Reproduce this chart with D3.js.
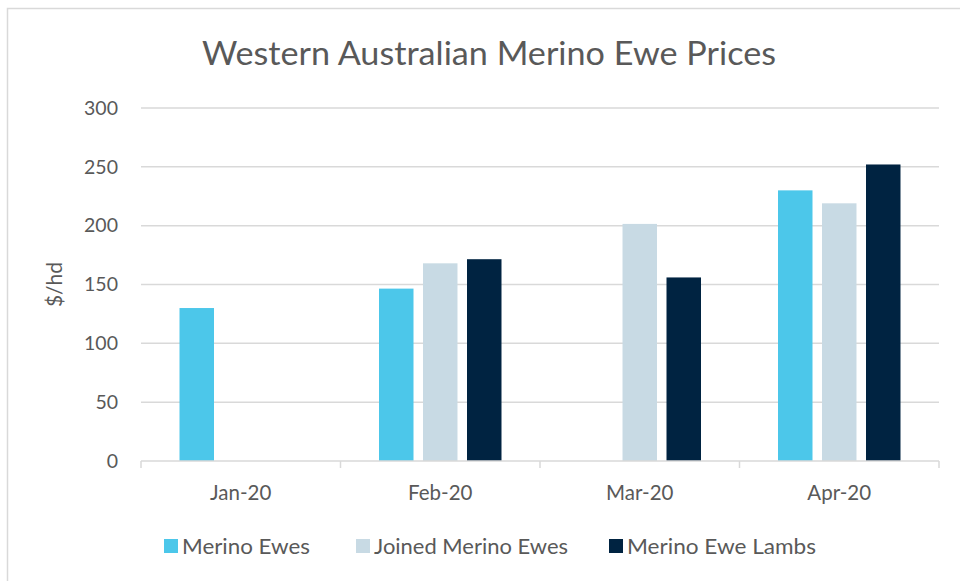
<!DOCTYPE html>
<html>
<head>
<meta charset="utf-8">
<script src="https://cdn.jsdelivr.net/npm/d3@7"></script>
<style>
  body { margin: 0; background: #fff; }
  text { font-family: Lato, "Open Sans", sans-serif; fill: #595959; }
</style>
</head>
<body>
<svg id="chart"></svg>
<script>
// data
const months = ["Jan-20", "Feb-20", "Mar-20", "Apr-20"];
const seriesNames = ["Merino Ewes", "Joined Merino Ewes", "Merino Ewe Lambs"];
const merinoEwes = [130, 146.5, null, 230];
const joinedMerinoEwes = [null, 168, 201.5, 219];
const merinoEweLambs = [null, 171.5, 156, 252];
const yTicks = [0, 50, 100, 150, 200, 250, 300];
const colors = ["#4cc7ea", "#c8dae4", "#002341"];

const width = 960, height = 581;
const margin = { top: 108, right: 21, bottom: 120, left: 141 };
const innerW = width - margin.left - margin.right;
const innerH = height - margin.top - margin.bottom;

const seriesValues = [merinoEwes, joinedMerinoEwes, merinoEweLambs];

const svg = d3.select("#chart")
    .attr("width", width)
    .attr("height", height);

// outer chart border
svg.append("rect")
    .attr("x", 7.5).attr("y", 8.5)
    .attr("width", width).attr("height", height)
    .attr("fill", "none")
    .attr("stroke", "#d9d9d9")
    .attr("stroke-width", 1.5);

svg.append("text")
    .attr("x", 489)
    .attr("y", 65)
    .attr("text-anchor", "middle")
    .style("font-size", "33px")
    .attr("textLength", 574)
    .attr("lengthAdjust", "spacingAndGlyphs")
    .text("Western Australian Merino Ewe Prices");

const g = svg.append("g")
    .attr("transform", `translate(${margin.left},${margin.top})`);

const x0 = d3.scaleBand().domain(months).range([0, innerW]).padding(0);
const bw = x0.bandwidth();
const x1 = d3.scaleBand().domain(seriesNames)
    .range([bw * 0.193, bw * 0.807])
    .paddingInner(0.216);
const y = d3.scaleLinear().domain([0, 300]).range([innerH, 0]);

// gridlines
g.append("g")
    .selectAll("line")
    .data(yTicks.filter(d => d > 0))
    .join("line")
    .attr("x1", 0).attr("x2", innerW)
    .attr("y1", d => y(d)).attr("y2", d => y(d))
    .attr("stroke", "#d9d9d9")
    .attr("stroke-width", 1.5);

// y axis labels
const yAxis = d3.axisLeft(y).tickValues(yTicks).tickSize(0).tickPadding(23);
g.append("g")
    .call(yAxis)
    .call(a => a.select(".domain").remove())
    .selectAll("text")
    .style("font-size", "19.5px")
    .attr("fill", "#595959");

g.append("text")
    .attr("transform", `translate(-79,${innerH / 2}) rotate(-90)`)
    .attr("text-anchor", "middle")
    .style("font-size", "21px")
    .text("$/hd");

// bars
const barData = [];
months.forEach((m, i) => {
    seriesNames.forEach((s, j) => {
        const v = seriesValues[j][i];
        if (v != null) barData.push({ month: m, series: s, value: v, color: colors[j] });
    });
});

g.append("g")
    .selectAll("rect")
    .data(barData)
    .join("rect")
    .attr("x", d => x0(d.month) + x1(d.series))
    .attr("y", d => y(d.value))
    .attr("width", x1.bandwidth())
    .attr("height", d => innerH - y(d.value))
    .attr("fill", d => d.color);

// x axis with category boundary ticks
const xAxisG = g.append("g").attr("transform", `translate(0,${innerH})`);
xAxisG.append("line")
    .attr("x1", 0).attr("x2", innerW)
    .attr("stroke", "#d9d9d9").attr("stroke-width", 1.5);
xAxisG.selectAll(".tk")
    .data(months.map(m => x0(m)).concat([innerW]))
    .join("line")
    .attr("class", "tk")
    .attr("x1", d => d).attr("x2", d => d)
    .attr("y1", 0).attr("y2", 7)
    .attr("stroke", "#d9d9d9").attr("stroke-width", 1.5);
xAxisG.selectAll(".lbl")
    .data(months)
    .join("text")
    .attr("class", "lbl")
    .attr("x", d => x0(d) + bw / 2)
    .attr("y", 39)
    .attr("text-anchor", "middle")
    .style("font-size", "20.5px")
    .text(d => d);

// legend
const legendX = [164, 356, 609];
const legendW = [128, 194, 189];
const legend = svg.append("g").attr("transform", "translate(0,546)");
seriesNames.forEach((s, i) => {
    legend.append("rect")
        .attr("x", legendX[i]).attr("y", -7)
        .attr("width", 14).attr("height", 14)
        .attr("fill", colors[i]);
    legend.append("text")
        .attr("x", legendX[i] + 18)
        .attr("y", 7.5)
        .style("font-size", "21px")
        .attr("textLength", legendW[i])
        .attr("lengthAdjust", "spacingAndGlyphs")
        .text(s);
});
</script>
</body>
</html>
